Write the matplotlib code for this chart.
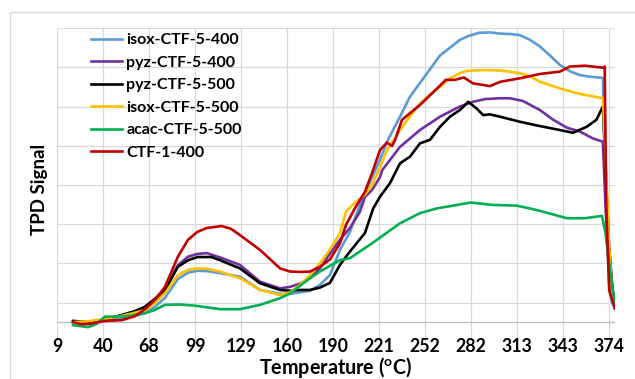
import numpy as np
import matplotlib
matplotlib.use('Agg')
import matplotlib.pyplot as plt
from matplotlib.patches import Rectangle

plt.rcParams['font.family'] = ['Lato', 'DejaVu Sans']
plt.rcParams['font.weight'] = 'bold'
plt.rcParams['mathtext.fontset'] = 'custom'
plt.rcParams['mathtext.rm'] = 'Lato:bold'
plt.rcParams['mathtext.bf'] = 'Lato:bold'

tick_labels = ['9', '40', '68', '99', '129', '160', '190', '221', '252', '282', '313', '343', '374']

# isox-CTF-5-400
t_isox400 = [19.6, 29.5, 40.7, 51.8, 60.5, 67.2, 74.0, 80.4, 88.9, 95.6, 102.0, 108.0, 116.7, 129.9,
             143.2, 156.4, 163.0, 176.2, 182.8, 189.4, 196.0, 202.6, 209.2, 215.0, 222.5, 227.1, 235.7,
             242.3, 248.9, 255.5, 262.1, 268.7, 275.3, 281.0, 288.0, 295.2, 301.8, 308.4, 315.0, 321.6,
             328.2, 334.8, 341.4, 348.0, 354.6, 361.2, 369.8, 371.8, 373.8, 375.8, 377.8]
s_isox400 = [0.0, -0.02, 0.06, 0.10, 0.16, 0.23, 0.40, 0.62, 1.10, 1.26, 1.31, 1.30, 1.25, 1.16,
             0.82, 0.72, 0.72, 0.80, 0.95, 1.20, 1.84, 2.30, 2.99, 3.50, 4.14, 4.60, 5.24,
             5.75, 6.10, 6.45, 6.80, 7.00, 7.20, 7.30, 7.38, 7.39, 7.36, 7.35, 7.32, 7.20,
             7.03, 6.80, 6.56, 6.40, 6.30, 6.26, 6.23, 3.00, 1.00, 0.50, 0.35]

# pyz-CTF-5-400
t_pyz400 = [19.6, 29.5, 40.7, 51.8, 60.5, 67.2, 74.0, 80.4, 88.9, 95.6, 102.0, 108.0, 116.7, 129.9,
            143.2, 156.4, 163.0, 169.6, 176.2, 182.8, 189.4, 196.0, 202.6, 209.0, 212.5, 217.2, 222.5,
            224.0, 235.7, 248.9, 262.1, 275.3, 283.9, 292.0, 301.8, 308.4, 317.0, 328.2, 337.0, 346.0,
            354.6, 363.0, 369.8, 371.5, 373.5, 376.0, 377.8]
s_pyz400 = [0.02, 0.0, 0.06, 0.18, 0.27, 0.39, 0.60, 0.84, 1.45, 1.67, 1.74, 1.76, 1.65, 1.46,
            1.03, 0.86, 0.90, 0.98, 1.12, 1.37, 1.75, 2.10, 2.40, 2.80, 3.19, 3.37, 3.70,
            3.88, 4.47, 4.90, 5.24, 5.50, 5.62, 5.69, 5.71, 5.71, 5.64, 5.41, 5.16, 4.96,
            4.86, 4.69, 4.60, 3.00, 1.50, 0.60, 0.40]

# pyz-CTF-5-500
t_pyz500 = [19.6, 29.5, 40.7, 51.8, 60.5, 67.2, 74.0, 80.4, 88.9, 95.6, 102.0, 111.0, 116.7, 129.9,
            143.2, 156.4, 163.0, 170.0, 176.2, 182.8, 189.4, 196.0, 202.6, 212.5, 218.0, 222.5, 229.0,
            235.7, 242.3, 248.9, 255.5, 262.1, 268.7, 275.3, 280.8, 286.3, 290.7, 295.0, 301.8, 315.0,
            328.2, 341.4, 350.0, 359.0, 365.5, 369.8, 371.5, 373.8, 375.8, 377.8]
s_pyz500 = [0.03, 0.0, 0.06, 0.18, 0.28, 0.39, 0.60, 0.82, 1.41, 1.58, 1.66, 1.66, 1.58, 1.37,
            0.99, 0.82, 0.80, 0.82, 0.82, 0.88, 1.00, 1.46, 1.80, 2.27, 2.90, 3.20, 3.54,
            4.05, 4.22, 4.56, 4.65, 4.98, 5.24, 5.41, 5.62, 5.45, 5.28, 5.30, 5.24, 5.11,
            5.00, 4.90, 4.83, 4.98, 5.16, 5.50, 4.00, 2.00, 1.00, 0.35]

# isox-CTF-5-500
t_isox500 = [19.6, 29.5, 40.7, 51.8, 60.5, 67.2, 74.0, 80.4, 88.9, 95.6, 101.7, 108.0, 116.7, 129.9,
             143.2, 156.4, 163.0, 169.6, 176.2, 182.8, 189.4, 196.0, 200.0, 206.0, 212.5, 217.2, 222.5,
             227.1, 235.7, 242.3, 248.9, 255.5, 262.1, 268.7, 275.3, 280.0, 290.5, 301.8, 315.0, 321.6,
             328.2, 341.4, 354.6, 365.9, 369.8, 371.8, 373.8, 375.8, 377.8]
s_isox500 = [0.0, 0.02, 0.08, 0.16, 0.24, 0.31, 0.50, 0.74, 1.20, 1.33, 1.37, 1.36, 1.29, 1.12,
             0.82, 0.69, 0.76, 0.95, 1.20, 1.50, 1.85, 2.27, 2.82, 3.05, 3.25, 3.50, 3.95,
             4.39, 4.90, 5.25, 5.58, 5.80, 6.00, 6.22, 6.35, 6.41, 6.43, 6.42, 6.35, 6.27,
             6.13, 5.96, 5.82, 5.74, 5.71, 4.00, 2.00, 0.80, 0.40]

# acac-CTF-5-500
t_acac500 = [19.6, 24.0, 29.5, 35.0, 40.7, 51.8, 60.5, 67.2, 73.0, 80.4, 90.0, 100.0, 105.5, 116.7,
             129.9, 143.2, 156.4, 163.0, 176.2, 182.8, 196.0, 202.6, 217.2, 235.7, 248.9, 260.0,
             275.0, 282.4, 297.0, 313.0, 326.0, 346.0, 358.0, 369.2, 371.5, 374.0, 377.8]
s_acac500 = [-0.08, -0.10, -0.13, -0.05, 0.14, 0.14, 0.18, 0.23, 0.30, 0.44, 0.45, 0.42, 0.39, 0.33,
             0.33, 0.44, 0.61, 0.73, 1.12, 1.29, 1.58, 1.63, 2.01, 2.52, 2.78, 2.90,
             3.00, 3.05, 2.99, 2.97, 2.86, 2.65, 2.65, 2.71, 2.27, 1.50, 0.35]

# CTF-1-400
t_ctf400 = [19.6, 24.5, 29.5, 40.7, 51.8, 60.5, 67.2, 74.0, 80.4, 88.9, 95.6, 101.7, 108.0, 117.8,
            124.0, 129.9, 143.2, 150.0, 156.4, 163.0, 170.0, 176.2, 182.8, 189.4, 196.0, 200.0, 206.0,
            212.5, 217.2, 222.5, 227.1, 230.4, 232.5, 237.0, 248.9, 257.0, 266.0, 272.0, 278.0, 283.9,
            290.5, 295.2, 301.8, 315.0, 328.2, 341.4, 348.0, 358.0, 369.8, 371.0, 372.0, 374.0, 377.8]
s_ctf400 = [0.0, -0.05, -0.05, 0.03, 0.05, 0.15, 0.33, 0.58, 0.90, 1.67, 2.10, 2.30, 2.40, 2.45,
            2.38, 2.22, 1.84, 1.60, 1.37, 1.29, 1.28, 1.29, 1.41, 1.60, 2.01, 2.48, 2.91,
            3.32, 3.80, 4.39, 4.58, 4.49, 4.65, 5.16, 5.54, 5.84, 6.18, 6.18, 6.24, 6.09,
            6.05, 6.02, 6.13, 6.22, 6.33, 6.39, 6.52, 6.54, 6.49, 6.52, 3.00, 0.80, 0.35]

series = [
    ('isox-CTF-5-400', t_isox400, s_isox400, '#5B9BD5'),
    ('pyz-CTF-5-400', t_pyz400, s_pyz400, '#7030A0'),
    ('pyz-CTF-5-500', t_pyz500, s_pyz500, '#000000'),
    ('isox-CTF-5-500', t_isox500, s_isox500, '#FFC000'),
    ('acac-CTF-5-500', t_acac500, s_acac500, '#00B050'),
    ('CTF-1-400', t_ctf400, s_ctf400, '#C00000'),
]

fig = plt.figure(figsize=(6.35, 3.79), dpi=100)
ax = fig.add_axes([57/635, 1 - 341.7/379, (615 - 57)/635, (341.7 - 28.1)/379])

# light frame around the chart area
fig.patches.append(Rectangle((10/635, -0.1), 1.2, 1 - 12/379 + 0.1, transform=fig.transFigure,
                             fill=False, edgecolor='#D9D9D9', linewidth=1.0))

for name, t, s, c in series:
    ax.plot(t, s, color=c, linewidth=1.9, label=name, solid_joinstyle='round')

ax.set_xlim(9, 377.8)
ax.set_ylim(-0.5, 7.5)
ax.set_xticks(np.linspace(9, 374, 13))
ax.set_xticklabels(tick_labels)
ax.set_yticks(np.arange(-0.5, 8, 1.0))
ax.set_yticklabels([])
ax.grid(True, color='#D9D9D9', linewidth=0.9)
ax.set_axisbelow(True)
ax.axhline(0, color='#BFBFBF', linewidth=1.0, zorder=1)
for sp in ax.spines.values():
    sp.set_visible(False)
ax.tick_params(axis='both', length=0)
ax.tick_params(axis='x', pad=-3, labelsize=12.8)

fig.text(40/635, 1 - 189/379, 'TPD Signal', rotation=90, ha='center', va='center',
         fontsize=13.5, fontweight='bold')
fig.text(336/635, 1 - 367.5/379, r'Temperature ($^{\mathrm{o}}$C)', ha='center', va='center',
         fontsize=14.2, fontweight='bold')

ax.legend(loc='upper left', bbox_to_anchor=(91/635, 1 - 33/379), bbox_transform=fig.transFigure,
          frameon=False, fontsize=11.5, handlelength=1.95, handletextpad=0.25, labelspacing=0.52,
          borderpad=0, borderaxespad=0)

fig.savefig('out.png', dpi=100)
